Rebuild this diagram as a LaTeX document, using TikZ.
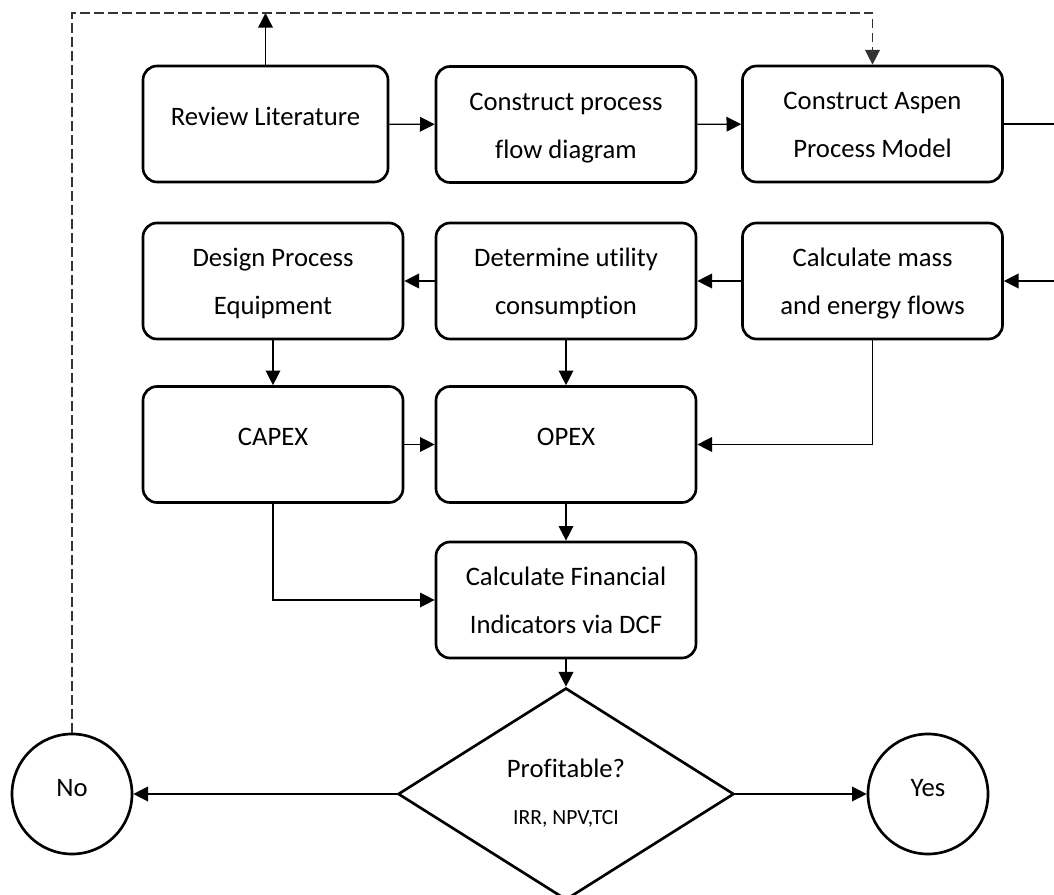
\documentclass[tikz,border=0pt]{standalone}
\usepackage{fontspec}
\setmainfont{Carlito}[Ligatures=NoCommon]
\usetikzlibrary{arrows.meta,shapes.geometric}
\newcommand{\oneline}[1]{\rule[-14pt]{0pt}{30pt}#1}
\newcommand{\twoline}[2]{\rule{0pt}{19.1pt}#1\\#2\rule[-4.5pt]{0pt}{4.5pt}}
\newcommand{\circtext}[1]{\rule[-12.2pt]{0pt}{28.2pt}#1}
\begin{document}
\begin{tikzpicture}[x=0.75pt,y=-0.75pt,
  stepbox/.style={draw, line width=2pt, rounded corners=10.5pt, minimum width=195pt, minimum height=87pt, align=center, inner sep=0pt, font=\fontsize{20pt}{36pt}\selectfont},
  endcircle/.style={draw, circle, line width=2pt, minimum size=90pt, inner sep=0pt, font=\fontsize{20pt}{36pt}\selectfont},
  decision/.style={draw, diamond, line width=2pt, minimum width=252pt, minimum height=159pt, inner sep=0pt},
  conn/.style={line width=1pt, -{Triangle[length=11pt,width=11pt]}},
  loopback/.style={line width=1pt, black!80, dash pattern=on 7pt off 3.5pt, -{Triangle[length=11pt,width=11pt]}}
]
\useasboundingbox (0,0) rectangle (1054,895);
\clip (0,0) rectangle (1054,895);

% row 1
\node[stepbox, minimum width=183.75pt] (rev) at (265.5,124) {\oneline{Review Literature}};
\node[stepbox] (pfd) at (566,124.5) {\twoline{Construct process}{flow diagram}};
\node[stepbox] (asp) at (872.5,124) {\twoline{Construct Aspen}{Process Model}};
% row 2
\node[stepbox] (dpe) at (273,281) {\twoline{Design Process}{Equipment}};
\node[stepbox] (util) at (566,281) {\twoline{Determine utility}{consumption}};
\node[stepbox] (mass) at (872.5,281) {\twoline{Calculate mass}{and energy flows}};
% row 3
\node[stepbox] (capex) at (273,444.5) {\oneline{CAPEX}};
\node[stepbox] (opex) at (566,444.5) {\oneline{OPEX}};
% row 4
\node[stepbox] (fin) at (566,600) {\twoline{Calculate Financial}{Indicators via DCF}};
% decision
\node[decision] (dia) at (566,794) {};
\node[anchor=base, font=\fontsize{20pt}{24pt}\selectfont] (q1) at (566,777) {Profitable?};
\node[anchor=base, font=\fontsize{16.2pt}{20pt}\selectfont] (q2) at (566,824) {IRR, NPV,TCI};
% outcomes
\node[endcircle] (no) at (72,794) {\circtext{No}};
\node[endcircle] (yes) at (928,794) {\circtext{Yes}};

% helper coordinates
\coordinate (top) at (500,13);
\coordinate (edge) at (1075,200);

% connectors
\draw[conn] (rev) -- (pfd);
\draw[conn] (pfd) -- (asp);
\draw[conn] (asp.east) -| (edge) |- (mass.east);
\draw[conn] (mass) -- (util);
\draw[conn] (util) -- (dpe);
\draw[conn] (dpe) -- (capex);
\draw[conn] (util) -- (opex);
\draw[conn] (mass.south) |- (opex.east);
\draw[conn] (capex) -- (opex);
\draw[conn] (opex) -- (fin);
\draw[conn] (capex.south) |- (fin.west);
\draw[conn] (fin) -- (dia);
\draw[conn] (dia.west) -- (no.east);
\draw[conn] (dia.east) -- (yes.west);
\draw[conn] (rev.north) -- (rev.north |- top);
\draw[loopback] (no.north) |- (top) -| (asp.north);
\end{tikzpicture}
\end{document}
